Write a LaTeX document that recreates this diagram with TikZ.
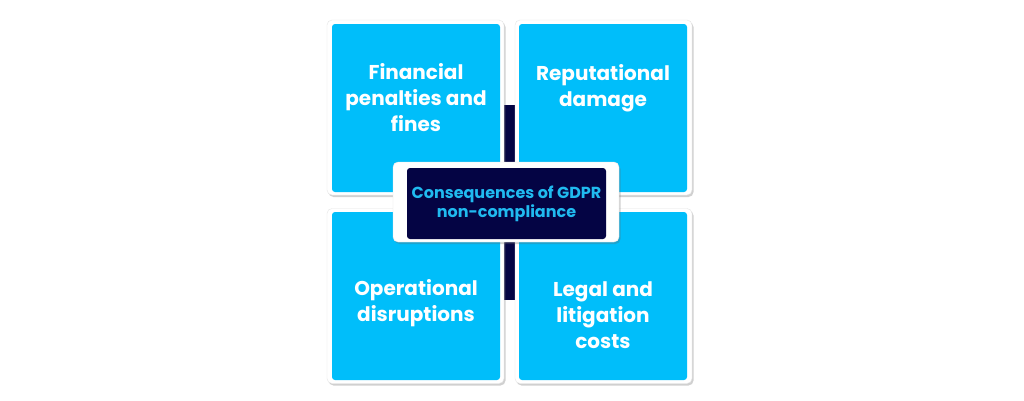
\documentclass[tikz,border=0pt]{standalone}
\usepackage{fontspec}
\setmainfont{Poppins}
\usetikzlibrary{shadows,positioning}
\definecolor{tileblue}{RGB}{0,190,250}
\definecolor{hubnavy}{RGB}{4,4,68}
\definecolor{hubcyan}{RGB}{32,186,240}
\tikzset{
	frame/.style={draw=black!10, fill=white, rounded corners=5pt, minimum width=177pt, minimum height=175pt, drop shadow={shadow xshift=1.5pt, shadow yshift=-2pt, opacity=0.3, fill=black!60}},
	tile/.style={fill=tileblue, rounded corners=3pt, minimum width=168pt, minimum height=168pt},
	tiletext/.style={text=white, align=center, font=\fontsize{20}{26}\selectfont\bfseries, inner sep=0pt},
	hubframe/.style={draw=black!10, fill=white, rounded corners=5pt, minimum width=226pt, minimum height=80pt, drop shadow={shadow xshift=1.5pt, shadow yshift=-2pt, opacity=0.3, fill=black!60}},
	hub/.style={fill=hubnavy, rounded corners=3pt, minimum width=199pt, minimum height=71pt, text=hubcyan, align=center, font=\fontsize{16}{19}\selectfont\bfseries, inner sep=0pt}
}
\begin{document}
\begin{tikzpicture}[x=1pt, y=-1pt]
	\useasboundingbox[fill=white] (0,0) rectangle (1024,400);
	% dark spine behind the tiles
	\fill[hubnavy] (504,105) rectangle (515,300);
	% four tiles
	\node[frame] (finframe) at (415.5,107.5) {};
	\node[tile] (fin) at (416,108) {};
	\node[frame] (repframe) at (603.5,107.5) {};
	\node[tile] (rep) at (603,108) {};
	\node[frame] (opsframe) at (415.5,296) {};
	\node[tile] (ops) at (416,296) {};
	\node[frame] (legalframe) at (603.5,296) {};
	\node[tile] (legal) at (603,296) {};
	\node[tiletext] (fintext) at (416,98) {Financial\\penalties and\\fines};
	\node[tiletext] (reptext) at (603,88) {Reputational\\damage};
	\node[tiletext] (opstext) at (416,303) {Operational\\disruptions};
	\node[tiletext] (legaltext) at (603,315) {Legal and\\litigation\\costs};
	% centre
	\node[hubframe] (coreframe) at (506,202) {};
	\node[hub] (core) at (506.5,203.5) {Consequences of GDPR\\non-compliance};
\end{tikzpicture}
\end{document}
